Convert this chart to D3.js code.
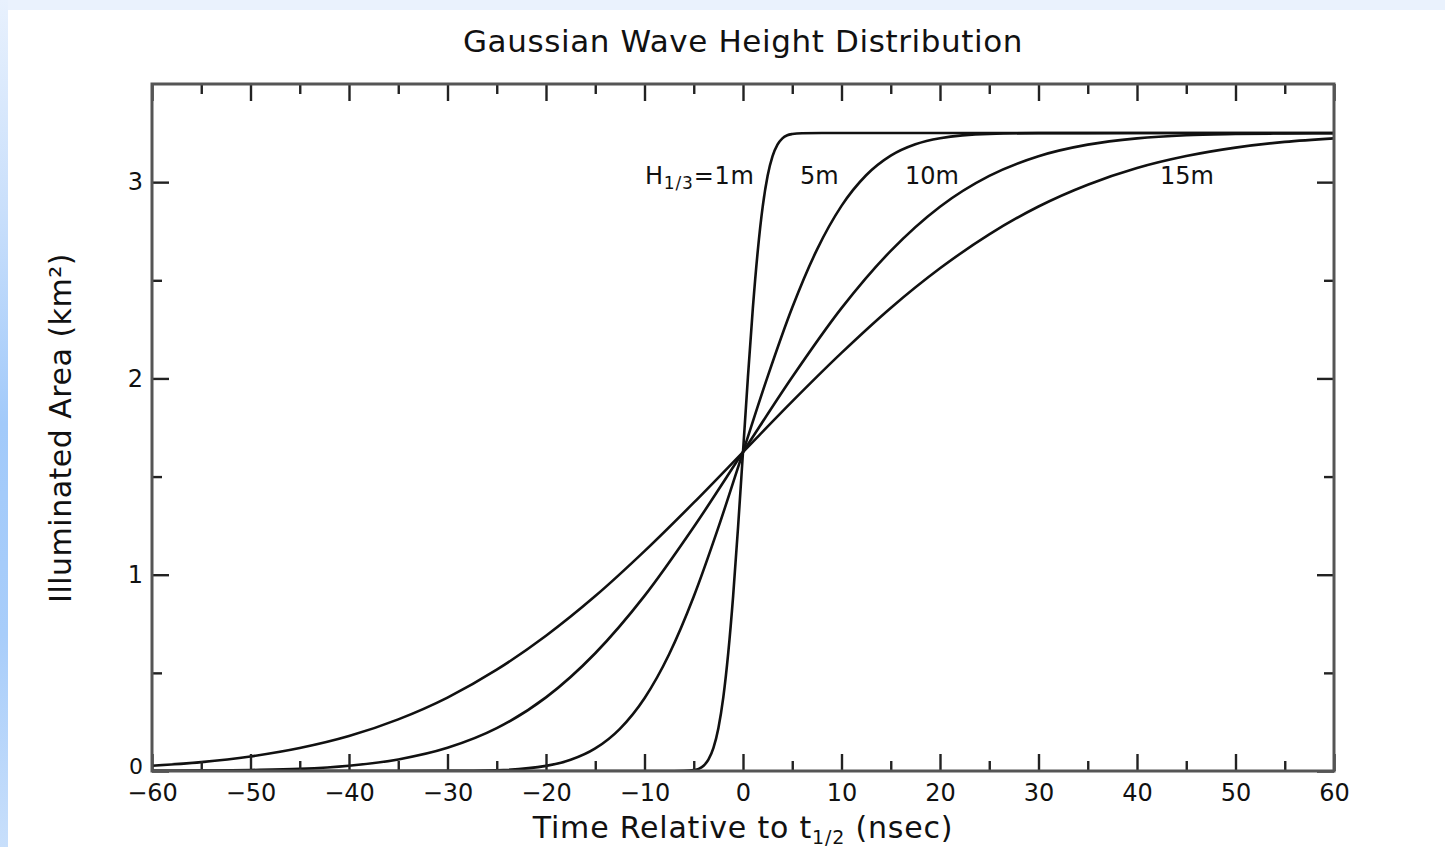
<!DOCTYPE html>
<html>
<head>
<meta charset="utf-8">
<script src="https://cdn.jsdelivr.net/npm/d3@7"></script>
<style>
  html, body { margin: 0; padding: 0; background: #fff; }
  svg { display: block; }
  text { font-family: "DejaVu Sans", "Liberation Sans", sans-serif; fill: #111; }
</style>
</head>
<body>
<svg id="chart" width="1445" height="847"></svg>
<script>
// Time axis (nsec) and illuminated area (km^2) for each significant wave height
const seriesNames = ["1m", "5m", "10m", "15m"];

const time1m = [-60, -8, -6, -5, -4.5, -4, -3.5, -3, -2.5, -2, -1.5, -1, -0.5, 0,
                0.5, 1, 1.5, 2, 2.5, 3, 3.5, 4, 4.5, 5, 6, 8, 60];
const area1m = [0, 0, 0.001, 0.005, 0.011, 0.027, 0.059, 0.118, 0.218, 0.375, 0.600, 0.892, 1.243, 1.625,
                2.007, 2.358, 2.650, 2.875, 3.032, 3.132, 3.191, 3.223, 3.239, 3.245, 3.249, 3.25, 3.25];

const time5m = [-60, -40, -30, -25, -20, -17.5, -15, -12.5, -10, -7.5, -5, -2.5, 0,
                2.5, 5, 7.5, 10, 12.5, 15, 17.5, 20, 25, 30, 40, 60];
const area5m = [0, 0, 0.0005, 0.004, 0.026, 0.057, 0.115, 0.215, 0.371, 0.595, 0.889, 1.241, 1.625,
                2.009, 2.361, 2.655, 2.879, 3.035, 3.135, 3.193, 3.224, 3.246, 3.2495, 3.25, 3.25];

const time10m = [-60, -55, -50, -45, -40, -35, -30, -25, -20, -15, -10, -5, 0,
                 5, 10, 15, 20, 25, 30, 35, 40, 45, 50, 55, 60];
const area10m = [0.001, 0.002, 0.005, 0.011, 0.027, 0.059, 0.118, 0.218, 0.375, 0.600, 0.892, 1.243, 1.625,
                 2.007, 2.358, 2.650, 2.875, 3.032, 3.132, 3.191, 3.223, 3.239, 3.245, 3.248, 3.249];

const time15m = [-60, -55, -50, -45, -40, -35, -30, -25, -20, -15, -10, -5, 0,
                 5, 10, 15, 20, 25, 30, 35, 40, 45, 50, 55, 60];
const area15m = [0.027, 0.045, 0.074, 0.117, 0.178, 0.263, 0.374, 0.516, 0.689, 0.891, 1.120, 1.367, 1.625,
                 1.883, 2.130, 2.359, 2.561, 2.734, 2.876, 2.987, 3.072, 3.133, 3.176, 3.205, 3.223];

const xMajorTicks = [-60, -50, -40, -30, -20, -10, 0, 10, 20, 30, 40, 50, 60];
const xMinorTicks = [-55, -45, -35, -25, -15, -5, 5, 15, 25, 35, 45, 55];
const yMajorTicks = [0, 1, 2, 3];
const yMinorTicks = [0.5, 1.5, 2.5];

const titleText = "Gaussian Wave Height Distribution";
const yLabelText = "Illuminated Area (km²)";

const svg = d3.select("#chart");
const W = 1445, H = 847;
const plot = { left: 152, right: 1334, top: 84, bottom: 771 };

// page backdrop: pale blue band on the top and a deeper blue strip on the left
const defs = svg.append("defs");
const lg = defs.append("linearGradient").attr("id", "leftStrip")
  .attr("x1", 0).attr("y1", 0).attr("x2", 0).attr("y2", 1);
[[0, "#e8f1fd"], [0.25, "#c9dffb"], [0.5, "#a2cafa"], [0.75, "#a8cdfa"], [1, "#c8dffb"]]
  .forEach(([o, c]) => lg.append("stop").attr("offset", o).attr("stop-color", c));

svg.append("rect").attr("width", W).attr("height", H).attr("fill", "#eaf2fd");
svg.append("rect").attr("x", 0).attr("y", 0).attr("width", 8).attr("height", H).attr("fill", "url(#leftStrip)");
svg.append("rect").attr("x", 8).attr("y", 10).attr("width", W - 8).attr("height", H - 10).attr("fill", "#ffffff");

const x = d3.scaleLinear().domain([-60, 60]).range([plot.left, plot.right]);
const y = d3.scaleLinear().domain([0, 3.5]).range([plot.bottom, plot.top]);

defs.append("clipPath").attr("id", "plotClip")
  .append("rect").attr("x", plot.left).attr("y", plot.top)
  .attr("width", plot.right - plot.left).attr("height", plot.bottom - plot.top);

// curves
const series = [
  { name: seriesNames[0], t: time1m, a: area1m },
  { name: seriesNames[1], t: time5m, a: area5m },
  { name: seriesNames[2], t: time10m, a: area10m },
  { name: seriesNames[3], t: time15m, a: area15m }
];
const line = d3.line().x(d => x(d[0])).y(d => y(d[1])).curve(d3.curveMonotoneX);
svg.append("g").attr("clip-path", "url(#plotClip)")
  .selectAll("path").data(series).join("path")
  .attr("d", s => line(s.t.map((t, i) => [t, s.a[i]])))
  .attr("fill", "none").attr("stroke", "#111").attr("stroke-width", 2.6)
  .attr("stroke-linejoin", "round");

// axes with inward ticks on all four sides
function styleAxis(g) {
  g.select(".domain").remove();
  g.selectAll(".tick line").attr("stroke", "#222").attr("stroke-width", 2.4);
  g.selectAll(".tick text").style("font-size", "24px").attr("fill", "#111")
    .style("font-family", "'DejaVu Sans', sans-serif");
}
const fmt = d => d < 0 ? "\u2212" + Math.abs(d) : String(d);

svg.append("g").attr("transform", `translate(0,${plot.bottom})`)
  .call(d3.axisBottom(x).tickValues(xMajorTicks).tickSize(-17).tickPadding(13).tickFormat(fmt))
  .call(styleAxis);
svg.append("g").attr("transform", `translate(0,${plot.bottom})`)
  .call(d3.axisBottom(x).tickValues(xMinorTicks).tickSize(-10).tickFormat(""))
  .call(styleAxis);
svg.append("g").attr("transform", `translate(0,${plot.top})`)
  .call(d3.axisTop(x).tickValues(xMajorTicks).tickSize(-17).tickFormat(""))
  .call(styleAxis);
svg.append("g").attr("transform", `translate(0,${plot.top})`)
  .call(d3.axisTop(x).tickValues(xMinorTicks).tickSize(-10).tickFormat(""))
  .call(styleAxis);
const yAxisLeft = svg.append("g").attr("transform", `translate(${plot.left},0)`)
  .call(d3.axisLeft(y).tickValues(yMajorTicks).tickSize(-17).tickPadding(9).tickFormat(d3.format("d")))
  .call(styleAxis);
// the "0" label sits a little higher so it clears the "−60" below it
yAxisLeft.selectAll(".tick text").filter(d => d === 0).attr("dy", "0.1em").style("font-size", "22px");
svg.append("g").attr("transform", `translate(${plot.left},0)`)
  .call(d3.axisLeft(y).tickValues(yMinorTicks).tickSize(-10).tickFormat(""))
  .call(styleAxis);
svg.append("g").attr("transform", `translate(${plot.right},0)`)
  .call(d3.axisRight(y).tickValues(yMajorTicks).tickSize(-17).tickFormat(""))
  .call(styleAxis);
svg.append("g").attr("transform", `translate(${plot.right},0)`)
  .call(d3.axisRight(y).tickValues(yMinorTicks).tickSize(-10).tickFormat(""))
  .call(styleAxis);

// frame
svg.append("rect").attr("x", plot.left).attr("y", plot.top)
  .attr("width", plot.right - plot.left).attr("height", plot.bottom - plot.top)
  .attr("fill", "none").attr("stroke", "#555").attr("stroke-width", 3);

// title
svg.append("text").attr("x", 743).attr("y", 52).attr("text-anchor", "middle")
  .style("font-size", "31px").style("letter-spacing", "0.6px").text(titleText);

// x axis label with subscript
const xl = svg.append("text").attr("x", 743).attr("y", 838).attr("text-anchor", "middle")
  .style("font-size", "30px").style("letter-spacing", "0.8px");
xl.append("tspan").text("Time Relative to t");
xl.append("tspan").attr("dy", 6).style("font-size", "19px").text("1/2");
xl.append("tspan").attr("dy", -6).text(" (nsec)");

// y axis label
svg.append("text").attr("transform", "translate(71,428) rotate(-90)")
  .attr("text-anchor", "middle").style("font-size", "30px").style("letter-spacing", "0.5px")
  .text(yLabelText);

// curve annotations
const ann = svg.append("g").style("font-size", "24px");
const h = ann.append("text").attr("x", 645).attr("y", 184).style("letter-spacing", "0.8px");
h.append("tspan").text("H");
h.append("tspan").attr("dy", 5).style("font-size", "17px").text("1/3");
h.append("tspan").attr("dy", -5).text("=1m");
ann.append("text").attr("x", 800).attr("y", 184).text(seriesNames[1]);
ann.append("text").attr("x", 905).attr("y", 184).text(seriesNames[2]);
ann.append("text").attr("x", 1160).attr("y", 184).text(seriesNames[3]);
</script>
</body>
</html>
